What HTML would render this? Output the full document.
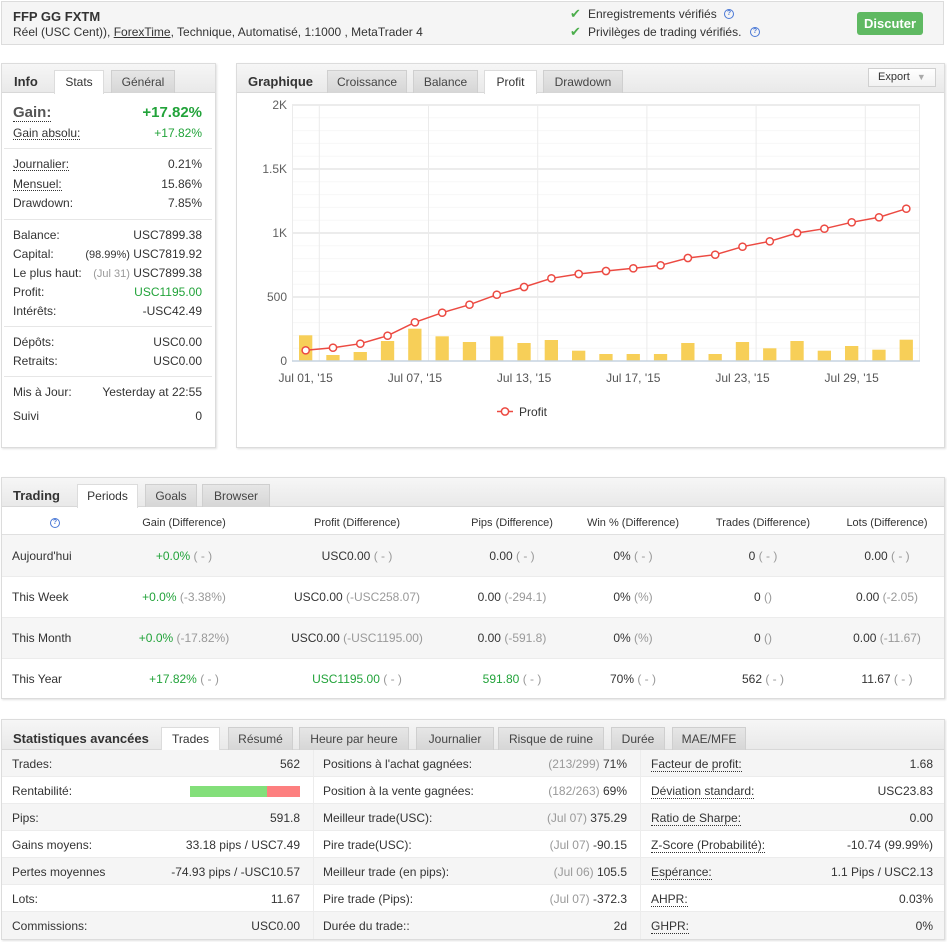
<!DOCTYPE html>
<html><head><meta charset="utf-8">
<style>
*{box-sizing:border-box;margin:0;padding:0}
body{width:947px;height:942px;background:#fff;font-family:"Liberation Sans",Arial,sans-serif;color:#333;position:relative;overflow:hidden;font-size:12px}
.a{position:absolute;white-space:nowrap}
.box{position:absolute;border:1px solid #dcdcdc;background:#fff;box-shadow:1px 1px 2px rgba(0,0,0,0.12)}
.bar{position:absolute;left:0;top:0;right:0;height:29px;background:linear-gradient(#f6f6f6,#e9e9e9);border-bottom:1px solid #d8d8d8}
.tab{position:absolute;height:23px;line-height:22px;text-align:center;font-size:12px;color:#444;background:linear-gradient(#e6e6e6,#d6d6d6);border:1px solid #cfcfcf;border-bottom:none}
.tab.on{background:#fff;border-color:#dcdcdc;height:24px;color:#333}
.ttl{position:absolute;font-weight:bold;font-size:13px;color:#333;white-space:nowrap}
.row{position:absolute;left:13px;width:189px;height:14px;line-height:14px;display:flex;justify-content:space-between;white-space:nowrap}
.sep{position:absolute;left:4px;width:208px;height:1px;background:#e6e6e6}
.g{color:#22a33a}
.gr{color:#999}
.du{border-bottom:1px dotted #333}
.q{position:absolute;width:10px;height:10px;border-radius:50%;border:1px solid #4a78d6;color:#4a78d6;font-size:7px;line-height:8px;text-align:center;font-weight:bold}
.c{position:absolute;width:170px;text-align:center;white-space:nowrap;line-height:14px}
.sr{position:absolute;left:0;width:942px;height:27px}
.cell{position:absolute;top:0;height:27px;line-height:27px;white-space:nowrap}
</style></head><body>

<!-- Header -->
<div class="box" style="left:1px;top:1px;width:943px;height:44px;background:#f5f5f5;box-shadow:none">
  <div class="a" style="left:11px;top:7px;font-weight:bold;font-size:13px">FFP GG FXTM</div>
  <div class="a" style="left:11px;top:23px;font-size:12px">Réel (USC Cent)), <span style="text-decoration:underline">ForexTime</span>, Technique, Automatisé, 1:1000 , MetaTrader 4</div>
  <div class="a" style="left:568px;top:4px;font-size:13px;color:#4cae4c">✔</div>
  <div class="a" style="left:586px;top:5px;font-size:12px">Enregistrements vérifiés</div>
  <div class="q" style="left:722px;top:7px">?</div>
  <div class="a" style="left:568px;top:22px;font-size:13px;color:#4cae4c">✔</div>
  <div class="a" style="left:586px;top:23px;font-size:12px">Privilèges de trading vérifiés.</div>
  <div class="q" style="left:748px;top:25px">?</div>
  <div class="a" style="left:855px;top:10px;width:66px;height:23px;background:#5fb962;border-radius:3px;color:#fff;font-weight:bold;font-size:13px;line-height:23px;text-align:center">Discuter</div>
</div>

<!-- Left panel -->
<div class="box" style="left:1px;top:63px;width:215px;height:385px">
  <div class="bar"></div>
  <div class="ttl" style="left:12px;top:10px">Info</div>
  <div class="tab on" style="left:52px;top:6px;width:50px">Stats</div>
  <div class="tab" style="left:109px;top:6px;width:64px">Général</div>
</div>
<div class="row" style="top:104px;height:18px;line-height:18px;font-size:15px;font-weight:bold"><span class="du" style="color:#555">Gain:</span><span class="g">+17.82%</span></div>
<div class="row" style="top:126px"><span class="du">Gain absolu:</span><span class="g">+17.82%</span></div>
<div class="sep" style="top:148px"></div>
<div class="row" style="top:157px"><span class="du">Journalier:</span><span>0.21%</span></div>
<div class="row" style="top:177px"><span class="du">Mensuel:</span><span>15.86%</span></div>
<div class="row" style="top:196px"><span>Drawdown:</span><span>7.85%</span></div>
<div class="sep" style="top:219px"></div>
<div class="row" style="top:228px"><span>Balance:</span><span>USC7899.38</span></div>
<div class="row" style="top:247px"><span>Capital:</span><span><span style="font-size:11px">(98.99%)</span> USC7819.92</span></div>
<div class="row" style="top:266px"><span>Le plus haut:</span><span><span class="gr" style="font-size:11px">(Jul 31)</span> USC7899.38</span></div>
<div class="row" style="top:285px"><span>Profit:</span><span class="g">USC1195.00</span></div>
<div class="row" style="top:304px"><span>Intérêts:</span><span>-USC42.49</span></div>
<div class="sep" style="top:326px"></div>
<div class="row" style="top:335px"><span>Dépôts:</span><span>USC0.00</span></div>
<div class="row" style="top:354px"><span>Retraits:</span><span>USC0.00</span></div>
<div class="sep" style="top:376px"></div>
<div class="row" style="top:385px"><span>Mis à Jour:</span><span>Yesterday at 22:55</span></div>
<div class="row" style="top:409px"><span>Suivi</span><span>0</span></div>

<!-- Chart panel -->
<div class="box" style="left:236px;top:63px;width:709px;height:385px">
  <div class="bar"></div>
  <div class="ttl" style="left:11px;top:10px">Graphique</div>
  <div class="tab" style="left:90px;top:6px;width:80px">Croissance</div>
  <div class="tab" style="left:176px;top:6px;width:65px">Balance</div>
  <div class="tab on" style="left:247px;top:6px;width:53px">Profit</div>
  <div class="tab" style="left:306px;top:6px;width:80px">Drawdown</div>
  <div class="a" style="left:631px;top:4px;width:68px;height:19px;background:linear-gradient(#fff,#f2f2f2);border:1px solid #d0d0d0;font-size:11px;line-height:17px;padding-left:9px;color:#333">Export <span style="color:#aaa;font-size:9px;margin-left:4px">▼</span></div>
</div>

<svg class="a" style="left:0;top:0" width="947" height="942" xmlns="http://www.w3.org/2000/svg">
  <g stroke="#f7f7f7" stroke-width="1">
    <line x1="292" x2="920" y1="348.2" y2="348.2"/><line x1="292" x2="920" y1="335.4" y2="335.4"/>
    <line x1="292" x2="920" y1="322.6" y2="322.6"/><line x1="292" x2="920" y1="309.8" y2="309.8"/>
    <line x1="292" x2="920" y1="284.2" y2="284.2"/><line x1="292" x2="920" y1="271.4" y2="271.4"/>
    <line x1="292" x2="920" y1="258.6" y2="258.6"/><line x1="292" x2="920" y1="245.8" y2="245.8"/>
    <line x1="292" x2="920" y1="220.2" y2="220.2"/><line x1="292" x2="920" y1="207.4" y2="207.4"/>
    <line x1="292" x2="920" y1="194.6" y2="194.6"/><line x1="292" x2="920" y1="181.8" y2="181.8"/>
    <line x1="292" x2="920" y1="156.2" y2="156.2"/><line x1="292" x2="920" y1="143.4" y2="143.4"/>
    <line x1="292" x2="920" y1="130.6" y2="130.6"/><line x1="292" x2="920" y1="117.8" y2="117.8"/>
  </g>
  <g stroke="#e6e6e6" stroke-width="1.5">
    <line x1="292" x2="920" y1="297" y2="297"/><line x1="292" x2="920" y1="233" y2="233"/>
    <line x1="292" x2="920" y1="169" y2="169"/><line x1="292" x2="920" y1="105" y2="105"/>
  </g>
  <g stroke="#ebebeb" stroke-width="1">
    <line x1="292.5" x2="292.5" y1="105" y2="361"/><line x1="919.5" x2="919.5" y1="105" y2="361"/>
    <line x1="319.3" x2="319.3" y1="105" y2="361"/><line x1="428.5" x2="428.5" y1="105" y2="361"/>
    <line x1="537.7" x2="537.7" y1="105" y2="361"/><line x1="646.9" x2="646.9" y1="105" y2="361"/>
    <line x1="756.1" x2="756.1" y1="105" y2="361"/><line x1="865.3" x2="865.3" y1="105" y2="361"/>
  </g>
  <g font-family="Liberation Sans, Arial, sans-serif" font-size="12" fill="#606060" text-anchor="end">
    <text x="287" y="109">2K</text><text x="287" y="173">1.5K</text><text x="287" y="237">1K</text>
    <text x="287" y="301">500</text><text x="287" y="365">0</text>
  </g>
  <g fill="#f7cf58">
    <rect x="299" y="335.3" width="13.3" height="25.7"/>
    <rect x="326.3" y="355" width="13.3" height="6"/>
    <rect x="353.6" y="352" width="13.3" height="9"/>
    <rect x="380.9" y="341" width="13.3" height="20"/>
    <rect x="408.2" y="328.7" width="13.3" height="32.3"/>
    <rect x="435.5" y="336.3" width="13.3" height="24.7"/>
    <rect x="462.8" y="342" width="13.3" height="19"/>
    <rect x="490.1" y="336.3" width="13.3" height="24.7"/>
    <rect x="517.4" y="343" width="13.3" height="18"/>
    <rect x="544.7" y="340" width="13.3" height="21"/>
    <rect x="572" y="350.7" width="13.3" height="10.3"/>
    <rect x="599.3" y="354" width="13.3" height="7"/>
    <rect x="626.6" y="354" width="13.3" height="7"/>
    <rect x="653.9" y="354" width="13.3" height="7"/>
    <rect x="681.2" y="343" width="13.3" height="18"/>
    <rect x="708.5" y="354" width="13.3" height="7"/>
    <rect x="735.8" y="342" width="13.3" height="19"/>
    <rect x="763.1" y="348.3" width="13.3" height="12.7"/>
    <rect x="790.4" y="341" width="13.3" height="20"/>
    <rect x="817.7" y="350.7" width="13.3" height="10.3"/>
    <rect x="845" y="346" width="13.3" height="15"/>
    <rect x="872.3" y="349.7" width="13.3" height="11.3"/>
    <rect x="899.6" y="339.7" width="13.3" height="21.3"/>
  </g>
  <line x1="292" x2="920" y1="361" y2="361" stroke="#c6d3e0" stroke-width="1.5"/>
  <polyline fill="none" stroke="#ec4a42" stroke-width="1.5" points="305.7,350.3 333,347.7 360.3,343.7 387.6,335.7 414.9,322.3 442.2,312.7 469.5,304.7 496.8,294.7 524.1,287 551.4,278.3 578.7,274 606,271 633.3,268.3 660.6,265.3 687.9,258 715.2,254.7 742.5,246.7 769.8,241.3 797.1,233 824.4,228.7 851.7,222.3 879,217.3 906.3,208.7"/>
  <g fill="#fff" stroke="#ec4a42" stroke-width="1.5">
    <circle cx="305.7" cy="350.3" r="3.6"/><circle cx="333" cy="347.7" r="3.6"/><circle cx="360.3" cy="343.7" r="3.6"/>
    <circle cx="387.6" cy="335.7" r="3.6"/><circle cx="414.9" cy="322.3" r="3.6"/><circle cx="442.2" cy="312.7" r="3.6"/>
    <circle cx="469.5" cy="304.7" r="3.6"/><circle cx="496.8" cy="294.7" r="3.6"/><circle cx="524.1" cy="287" r="3.6"/>
    <circle cx="551.4" cy="278.3" r="3.6"/><circle cx="578.7" cy="274" r="3.6"/><circle cx="606" cy="271" r="3.6"/>
    <circle cx="633.3" cy="268.3" r="3.6"/><circle cx="660.6" cy="265.3" r="3.6"/><circle cx="687.9" cy="258" r="3.6"/>
    <circle cx="715.2" cy="254.7" r="3.6"/><circle cx="742.5" cy="246.7" r="3.6"/><circle cx="769.8" cy="241.3" r="3.6"/>
    <circle cx="797.1" cy="233" r="3.6"/><circle cx="824.4" cy="228.7" r="3.6"/><circle cx="851.7" cy="222.3" r="3.6"/>
    <circle cx="879" cy="217.3" r="3.6"/><circle cx="906.3" cy="208.7" r="3.6"/>
  </g>
  <g font-family="Liberation Sans, Arial, sans-serif" font-size="12" fill="#555" text-anchor="middle">
    <text x="305.7" y="382">Jul 01, '15</text><text x="414.9" y="382">Jul 07, '15</text>
    <text x="524.1" y="382">Jul 13, '15</text><text x="633.3" y="382">Jul 17, '15</text>
    <text x="742.5" y="382">Jul 23, '15</text><text x="851.7" y="382">Jul 29, '15</text>
  </g>
  <line x1="497" x2="513" y1="411.5" y2="411.5" stroke="#ec4a42" stroke-width="1.5"/>
  <circle cx="505" cy="411.5" r="3.6" fill="#fff" stroke="#ec4a42" stroke-width="1.5"/>
  <text x="519" y="416" font-family="Liberation Sans, Arial, sans-serif" font-size="12" fill="#333">Profit</text>
</svg>

<!-- Trading panel -->
<div class="box" style="left:1px;top:477px;width:944px;height:222px">
  <div class="bar"></div>
  <div class="ttl" style="left:11px;top:10px">Trading</div>
  <div class="tab on" style="left:75px;top:6px;width:61px">Periods</div>
  <div class="tab" style="left:143px;top:6px;width:52px">Goals</div>
  <div class="tab" style="left:200px;top:6px;width:68px">Browser</div>
  <div class="a" style="left:0;top:56px;width:942px;height:1px;background:#e0e0e0"></div>
  <div class="a" style="left:0;top:57px;width:942px;height:41px;background:#f6f6f6"></div>
  <div class="a" style="left:0;top:98px;width:942px;height:1px;background:#ececec"></div>
  <div class="a" style="left:0;top:139px;width:942px;height:1px;background:#ececec"></div>
  <div class="a" style="left:0;top:140px;width:942px;height:40px;background:#f6f6f6"></div>
  <div class="a" style="left:0;top:180px;width:942px;height:1px;background:#ececec"></div>
</div>
<div class="q" style="left:50px;top:518px">?</div>
<div style="font-size:11px">
  <div class="c" style="left:99px;top:516px">Gain (Difference)</div>
  <div class="c" style="left:272px;top:516px">Profit (Difference)</div>
  <div class="c" style="left:427px;top:516px">Pips (Difference)</div>
  <div class="c" style="left:548px;top:516px">Win % (Difference)</div>
  <div class="c" style="left:678px;top:516px">Trades (Difference)</div>
  <div class="c" style="left:802px;top:516px">Lots (Difference)</div>
</div>
<div style="font-size:12px">
  <div class="a" style="left:12px;top:549px">Aujourd'hui</div>
  <div class="c" style="left:99px;top:549px"><span class="g">+0.0%</span> <span class="gr">( - )</span></div>
  <div class="c" style="left:272px;top:549px">USC0.00 <span class="gr">( - )</span></div>
  <div class="c" style="left:427px;top:549px">0.00 <span class="gr">( - )</span></div>
  <div class="c" style="left:548px;top:549px">0% <span class="gr">( - )</span></div>
  <div class="c" style="left:678px;top:549px">0 <span class="gr">( - )</span></div>
  <div class="c" style="left:802px;top:549px">0.00 <span class="gr">( - )</span></div>

  <div class="a" style="left:12px;top:590px">This Week</div>
  <div class="c" style="left:99px;top:590px"><span class="g">+0.0%</span> <span class="gr">(-3.38%)</span></div>
  <div class="c" style="left:272px;top:590px">USC0.00 <span class="gr">(-USC258.07)</span></div>
  <div class="c" style="left:427px;top:590px">0.00 <span class="gr">(-294.1)</span></div>
  <div class="c" style="left:548px;top:590px">0% <span class="gr">(%)</span></div>
  <div class="c" style="left:678px;top:590px">0 <span class="gr">()</span></div>
  <div class="c" style="left:802px;top:590px">0.00 <span class="gr">(-2.05)</span></div>

  <div class="a" style="left:12px;top:631px">This Month</div>
  <div class="c" style="left:99px;top:631px"><span class="g">+0.0%</span> <span class="gr">(-17.82%)</span></div>
  <div class="c" style="left:272px;top:631px">USC0.00 <span class="gr">(-USC1195.00)</span></div>
  <div class="c" style="left:427px;top:631px">0.00 <span class="gr">(-591.8)</span></div>
  <div class="c" style="left:548px;top:631px">0% <span class="gr">(%)</span></div>
  <div class="c" style="left:678px;top:631px">0 <span class="gr">()</span></div>
  <div class="c" style="left:802px;top:631px">0.00 <span class="gr">(-11.67)</span></div>

  <div class="a" style="left:12px;top:672px">This Year</div>
  <div class="c" style="left:99px;top:672px"><span class="g">+17.82%</span> <span class="gr">( - )</span></div>
  <div class="c" style="left:272px;top:672px"><span class="g">USC1195.00</span> <span class="gr">( - )</span></div>
  <div class="c" style="left:427px;top:672px"><span class="g">591.80</span> <span class="gr">( - )</span></div>
  <div class="c" style="left:548px;top:672px">70% <span class="gr">( - )</span></div>
  <div class="c" style="left:678px;top:672px">562 <span class="gr">( - )</span></div>
  <div class="c" style="left:802px;top:672px">11.67 <span class="gr">( - )</span></div>
</div>

<!-- Stats panel -->
<div class="box" style="left:1px;top:719px;width:944px;height:221px">
  <div class="bar" style="height:30px"></div>
  <div class="ttl" style="left:11px;top:11px">Statistiques avancées</div>
  <div class="tab on" style="left:159px;top:7px;width:59px">Trades</div>
  <div class="tab" style="left:226px;top:7px;width:65px">Résumé</div>
  <div class="tab" style="left:297px;top:7px;width:110px">Heure par heure</div>
  <div class="tab" style="left:414px;top:7px;width:78px">Journalier</div>
  <div class="tab" style="left:496px;top:7px;width:106px">Risque de ruine</div>
  <div class="tab" style="left:609px;top:7px;width:54px">Durée</div>
  <div class="tab" style="left:670px;top:7px;width:74px">MAE/MFE</div>

  <div class="sr" style="top:30px;background:#f5f5f5;border-bottom:1px solid #ececec"></div>
  <div class="sr" style="top:57px;background:#fff;border-bottom:1px solid #ececec"></div>
  <div class="sr" style="top:84px;background:#f5f5f5;border-bottom:1px solid #ececec"></div>
  <div class="sr" style="top:111px;background:#fff;border-bottom:1px solid #ececec"></div>
  <div class="sr" style="top:138px;background:#f5f5f5;border-bottom:1px solid #ececec"></div>
  <div class="sr" style="top:165px;background:#fff;border-bottom:1px solid #ececec"></div>
  <div class="sr" style="top:192px;background:#f5f5f5"></div>
  <div class="a" style="left:311px;top:30px;width:1px;height:189px;background:#fff;border-left:1px solid #ececec"></div>
  <div class="a" style="left:638px;top:30px;width:1px;height:189px;background:#fff;border-left:1px solid #ececec"></div>
</div>
<div style="font-size:12px">
  <!-- col1 -->
  <div class="a" style="left:12px;top:757px">Trades:</div><div class="a" style="right:647px;top:757px">562</div>
  <div class="a" style="left:12px;top:784px">Rentabilité:</div>
  <div class="a" style="left:190px;top:786px;width:77px;height:11px;background:#83df7a"></div>
  <div class="a" style="left:267px;top:786px;width:33px;height:11px;background:#fd7f7f"></div>
  <div class="a" style="left:12px;top:811px">Pips:</div><div class="a" style="right:647px;top:811px">591.8</div>
  <div class="a" style="left:12px;top:838px">Gains moyens:</div><div class="a" style="right:647px;top:838px">33.18 pips / USC7.49</div>
  <div class="a" style="left:12px;top:865px">Pertes moyennes</div><div class="a" style="right:647px;top:865px">-74.93 pips / -USC10.57</div>
  <div class="a" style="left:12px;top:892px">Lots:</div><div class="a" style="right:647px;top:892px">11.67</div>
  <div class="a" style="left:12px;top:919px">Commissions:</div><div class="a" style="right:647px;top:919px">USC0.00</div>
  <!-- col2 -->
  <div class="a" style="left:323px;top:757px">Positions à l'achat gagnées:</div><div class="a" style="right:320px;top:757px"><span class="gr">(213/299)</span> 71%</div>
  <div class="a" style="left:323px;top:784px">Position à la vente gagnées:</div><div class="a" style="right:320px;top:784px"><span class="gr">(182/263)</span> 69%</div>
  <div class="a" style="left:323px;top:811px">Meilleur trade(USC):</div><div class="a" style="right:320px;top:811px"><span class="gr">(Jul 07)</span> 375.29</div>
  <div class="a" style="left:323px;top:838px">Pire trade(USC):</div><div class="a" style="right:320px;top:838px"><span class="gr">(Jul 07)</span> -90.15</div>
  <div class="a" style="left:323px;top:865px">Meilleur trade (en pips):</div><div class="a" style="right:320px;top:865px"><span class="gr">(Jul 06)</span> 105.5</div>
  <div class="a" style="left:323px;top:892px">Pire trade (Pips):</div><div class="a" style="right:320px;top:892px"><span class="gr">(Jul 07)</span> -372.3</div>
  <div class="a" style="left:323px;top:919px">Durée du trade::</div><div class="a" style="right:320px;top:919px">2d</div>
  <!-- col3 -->
  <div class="a du" style="left:651px;top:757px">Facteur de profit:</div><div class="a" style="right:14px;top:757px">1.68</div>
  <div class="a du" style="left:651px;top:784px">Déviation standard:</div><div class="a" style="right:14px;top:784px">USC23.83</div>
  <div class="a du" style="left:651px;top:811px">Ratio de Sharpe:</div><div class="a" style="right:14px;top:811px">0.00</div>
  <div class="a du" style="left:651px;top:838px">Z-Score (Probabilité):</div><div class="a" style="right:14px;top:838px">-10.74 (99.99%)</div>
  <div class="a du" style="left:651px;top:865px">Espérance:</div><div class="a" style="right:14px;top:865px">1.1 Pips / USC2.13</div>
  <div class="a du" style="left:651px;top:892px">AHPR:</div><div class="a" style="right:14px;top:892px">0.03%</div>
  <div class="a du" style="left:651px;top:919px">GHPR:</div><div class="a" style="right:14px;top:919px">0%</div>
</div>

</body></html>
